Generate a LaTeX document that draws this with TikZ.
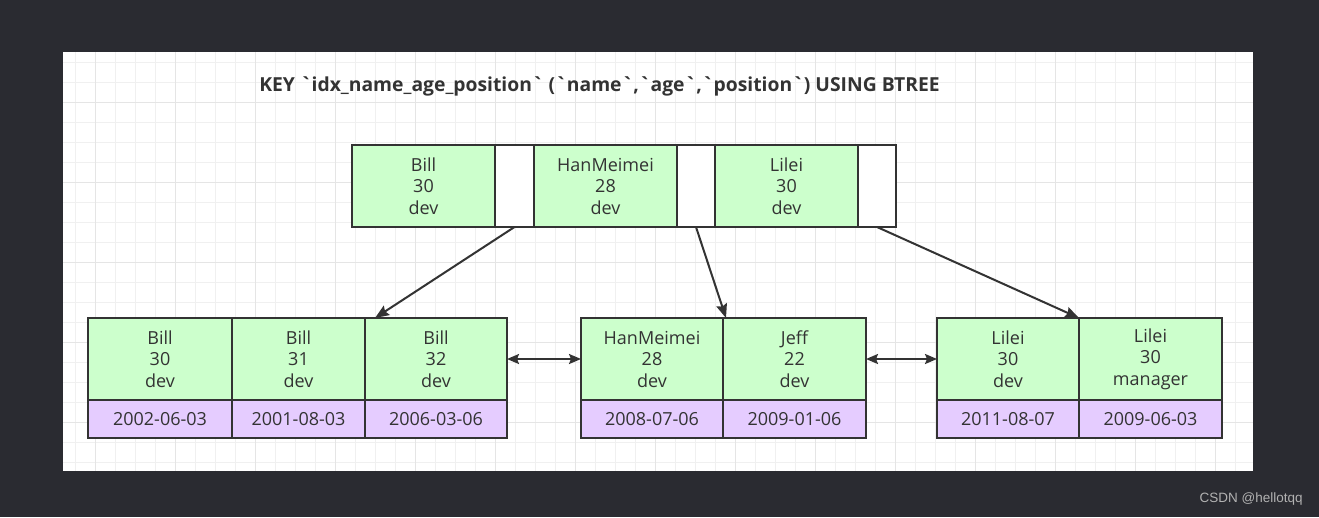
\documentclass[tikz,border=0pt]{standalone}
\usepackage{fontspec}
\setmainfont{Open Sans}[Ligatures=TeXOff]
\newfontfamily\markfont{Liberation Sans}
\usetikzlibrary{arrows.meta}

\definecolor{bgdark}{HTML}{2A2B31}
\definecolor{keygreen}{HTML}{CCFFCC}
\definecolor{datepurple}{HTML}{E5CCFF}
\definecolor{inkgray}{HTML}{333333}

\begin{document}
\begin{tikzpicture}[x=1pt,y=-1pt]
				\tikzstyle{every node}=[text=inkgray,font=\fontsize{18}{21.5}\selectfont,outer sep=0pt]
				\tikzstyle{cell}=[draw=inkgray,line width=2pt,align=center,inner sep=0pt]
				\tikzstyle{key}=[cell,fill=keygreen,minimum height=82pt]
				\tikzstyle{ptr}=[cell,fill=white,minimum height=82pt]
				\tikzstyle{date}=[cell,fill=datepurple,minimum height=38pt]
				\tikzstyle{link}=[draw=inkgray,line width=2pt,-{Stealth[length=14pt,width=11pt,inset=2pt]}]
				\tikzstyle{sibling}=[link,{Stealth[length=12pt,width=10pt,inset=2pt]}-{Stealth[length=12pt,width=10pt,inset=2pt]}]

				% background and grid paper
				\useasboundingbox[fill=bgdark] (0,0) rectangle (1319,517);
				\fill[white] (63,52) rectangle (1253,471);
				\foreach \x in {75,95,...,1245} \draw[black!6,line width=1pt] (\x,52) -- (\x,471);
				\foreach \y in {62,82,...,462} \draw[black!6,line width=1pt] (63,\y) -- (1253,\y);
				\foreach \x in {95,175,...,1245} \draw[black!10,line width=1pt] (\x,52) -- (\x,471);
				\foreach \y in {102,182,...,462} \draw[black!10,line width=1pt] (63,\y) -- (1253,\y);

				\node[font=\fontsize{19.3}{23}\selectfont\bfseries,anchor=west] (title) at (256,86)
					{KEY `idx\_name\_age\_position` (`name`,`age`,`position`) USING BTREE};

				% root page
				\node[key,minimum width=143pt] (k1) at (423.5,186) {Bill\\30\\dev};
				\node[ptr,minimum width=39pt] (p1) at (514.5,186) {};
				\node[key,minimum width=143pt] (k2) at (605.5,186) {HanMeimei\\28\\dev};
				\node[ptr,minimum width=38pt] (p2) at (696,186) {};
				\node[key,minimum width=143pt] (k3) at (786.5,186) {Lilei\\30\\dev};
				\node[ptr,minimum width=38pt] (p3) at (877,186) {};

				% leaf pages
				\node[key,minimum width=144pt] (a1) at (160,359) {Bill\\30\\dev};
				\node[key,minimum width=133pt] (a2) at (298.5,359) {Bill\\31\\dev};
				\node[key,minimum width=142pt] (a3) at (436,359) {Bill\\32\\dev};
				\node[date,minimum width=144pt] (da1) at (160,419) {2002-06-03};
				\node[date,minimum width=133pt] (da2) at (298.5,419) {2001-08-03};
				\node[date,minimum width=142pt] (da3) at (436,419) {2006-03-06};

				\node[key,minimum width=142pt] (b1) at (652,359) {HanMeimei\\28\\dev};
				\node[key,minimum width=143pt] (b2) at (794.5,359) {Jeff\\22\\dev};
				\node[date,minimum width=142pt] (db1) at (652,419) {2008-07-06};
				\node[date,minimum width=143pt] (db2) at (794.5,419) {2009-01-06};

				\node[key,minimum width=142pt] (c1) at (1008,359) {Lilei\\30\\dev};
				\node[key,minimum width=143pt] (c2) at (1150.5,359) {Lilei\\30\\manager};
				\node[date,minimum width=142pt] (dc1) at (1008,419) {2011-08-07};
				\node[date,minimum width=143pt] (dc2) at (1150.5,419) {2009-06-03};

				% pointers
				\draw[link] (p1.south) -- ([xshift=10pt]a3.north west);
				\draw[link] (p2.south) -- ([xshift=3pt]b2.north west);
				\draw[link] (p3.south) -- (c2.north west);
				\draw[sibling] (a3.east) -- (b1.west);
				\draw[sibling] (b2.east) -- (c1.west);

				\node[text=black!30,font=\fontsize{13.5}{16}\selectfont\markfont,anchor=east] (mark) at (1306,499) {CSDN @hellotqq};
\end{tikzpicture}
\end{document}
